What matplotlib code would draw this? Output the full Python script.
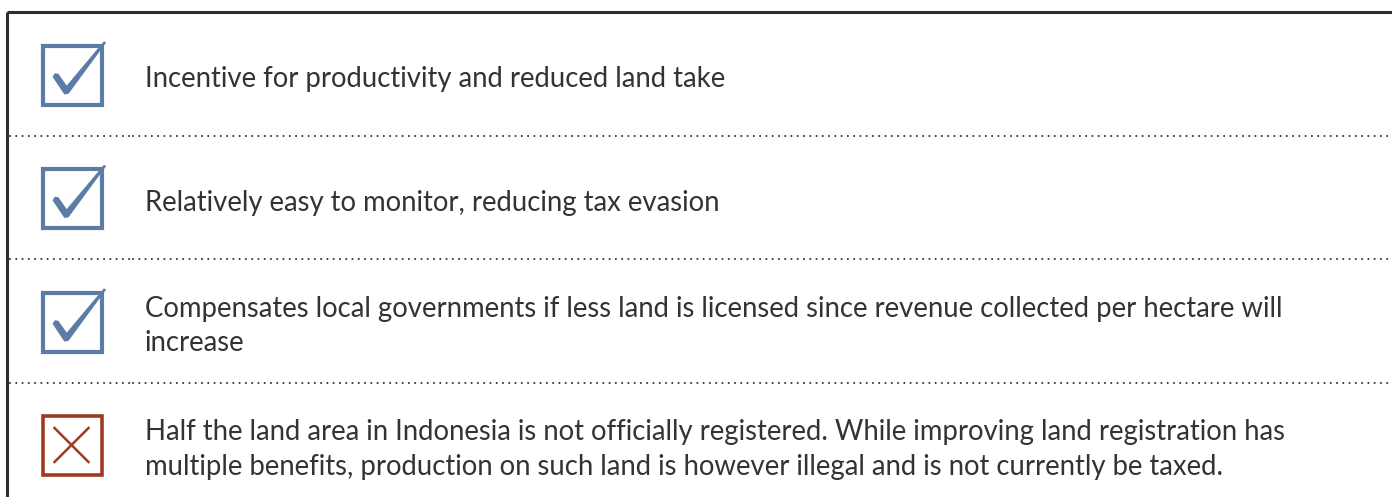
import matplotlib.pyplot as plt
from matplotlib.patches import Rectangle, Polygon

# rows of the pros / cons box
row_kind = ["pro", "pro", "pro", "con"]
row_lines = [
    ["Incentive for productivity and reduced land take"],
    ["Relatively easy to monitor, reducing tax evasion"],
    ["Compensates local governments if less land is licensed since revenue collected per hectare will",
     "increase"],
    ["Half the land area in Indonesia is not officially registered. While improving land registration has",
     "multiple benefits, production on such land is however illegal and is not currently be taxed."],
]

W, H = 1392, 497
BLUE = "#5a7ca6"
RED = "#9c3a24"
TEXT = "#333333"
FRAME = "#2e2e2e"

fig = plt.figure(figsize=(W / 100, H / 100), dpi=100)
ax = fig.add_axes([0, 0, 1, 1])
ax.set_xlim(0, W)
ax.set_ylim(H, 0)
ax.axis("off")

# outer frame: top and left edges only are visible
ax.plot([7, W], [12, 12], color=FRAME, lw=2.2, solid_capstyle="butt")
ax.plot([7, 7], [12, H], color=FRAME, lw=2.2, solid_capstyle="butt")

row_h = 123.5
top = 12
box = 59
# calligraphic tick, in box units
check_shape = [(0.17, 0.53), (0.21, 0.47), (0.27, 0.48), (0.41, 0.68),
               (1.04, -0.07), (1.08, -0.05), (0.44, 0.82), (0.37, 0.83)]

for i, (kind, lines) in enumerate(zip(row_kind, row_lines)):
    cy = top + 63 + i * row_h
    bx, by = 42.5, cy - box / 2
    if kind == "pro":
        ax.add_patch(Rectangle((bx, by), box, box, fill=False, ec=BLUE, lw=3.0))
        pts = [(bx + u * box, by + v * box) for u, v in check_shape]
        ax.add_patch(Polygon(pts, closed=True, fc=BLUE, ec="none"))
    else:
        ax.add_patch(Rectangle((bx, by), box, box, fill=False, ec=RED, lw=2.6))
        ax.plot([bx + 12, bx + 46], [by + 12, by + 46], color=RED, lw=1.8)
        ax.plot([bx + 12, bx + 46], [by + 46, by + 12], color=RED, lw=1.8)

    n = len(lines)
    for j, line in enumerate(lines):
        ty = cy + 1.5 + (j - (n - 1) / 2) * 34.5
        ax.text(145, ty, line, fontsize=19.8, family="Lato",
                color=TEXT, ha="left", va="center_baseline")

    if i < len(row_kind) - 1:
        ly = top + (i + 1) * row_h
        for x0, x1 in [(10, 133), (133, W - 2)]:
            ax.plot([x0, x1], [ly, ly], color="#333333", lw=1.5,
                    linestyle=(0, (0.01, 3.0)), dash_capstyle="round")

fig.savefig("out.png", dpi=100)
